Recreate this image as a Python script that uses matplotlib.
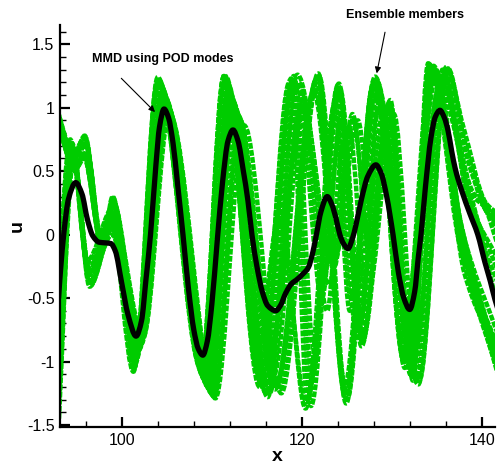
import numpy as np
import matplotlib
matplotlib.use("Agg")
import matplotlib.pyplot as plt
from matplotlib.path import Path
from matplotlib.patches import PathPatch
from matplotlib.ticker import MultipleLocator, FormatStrFormatter

plt.rcParams['font.family'] = ['Liberation Sans', 'DejaVu Sans']
plt.rcParams['axes.unicode_minus'] = False

# ---------------- data (knots) ----------------
# MMD using POD modes (black curve)
mmd_x = [93.0, 93.2, 93.6, 94.1, 94.9, 95.6, 96.2, 96.8, 97.5, 98.2, 98.8, 99.3, 100.0,
         100.7, 101.6, 102.2, 102.7, 103.2, 103.8, 104.2, 104.7, 105.2, 105.7, 106.2,
         106.8, 107.4, 108.0, 108.5, 109.0, 109.5, 110.0, 110.6, 111.2, 111.8, 112.35,
         112.9, 113.5, 114.0, 114.45, 115.0, 115.6, 116.2, 117.1, 117.6, 118.2, 118.8,
         119.5, 120.1, 120.7, 121.2, 121.6, 122.1, 122.8, 123.3, 123.8, 124.2, 124.6,
         125.1, 125.6, 126.0, 126.6, 127.3, 128.2, 128.8, 129.4, 130.1, 130.7, 131.3,
         131.95, 132.5, 132.9, 133.2, 133.7, 134.3, 134.8, 135.3, 135.8, 136.2, 136.6,
         137.0, 137.7, 138.6, 139.5, 140.3, 140.9, 141.4, 141.7]
mmd_y = [-0.50, -0.30, 0.02, 0.28, 0.41, 0.32, 0.12, -0.01, -0.06, -0.065, -0.07, -0.13,
         -0.38, -0.63, -0.80, -0.68, -0.35, 0.00, 0.55, 0.85, 0.99, 0.92, 0.72, 0.40, 0.00,
         -0.42, -0.75, -0.90, -0.95, -0.84, -0.55, -0.05, 0.42, 0.74, 0.825, 0.74, 0.50,
         0.27, 0.00, -0.25, -0.45, -0.56, -0.60, -0.56, -0.46, -0.39, -0.35, -0.31, -0.26,
         -0.14, 0.00, 0.18, 0.30, 0.24, 0.12, 0.00, -0.07, -0.11, -0.03, 0.08, 0.28, 0.46,
         0.55, 0.48, 0.30, 0.00, -0.30, -0.50, -0.59, -0.45, -0.18, 0.00, 0.38, 0.76,
         0.93, 0.98, 0.92, 0.82, 0.66, 0.52, 0.35, 0.17, 0.00, -0.22, -0.37, -0.51, -0.58]

# Ensemble members: (x, u) knots at their peaks / troughs
ens_01 = [(92.6, 1.05), (94.7, 0.62), (95.9, 0.78), (97.8, -0.12), (99.05, 0.29), (101.4, -1.05),
          (104.0, 1.24), (108.8, -1.05), (111.4, 1.26), (115.2, -1.1), (118.8, 1.23), (120.6, -1.3),
          (124.1, 1.19), (126.6, -0.88), (129.8, 1.06), (132.0, -1.1), (134.0, 1.35), (137.5, 0.0),
          (141.8, -1.12)]
ens_02 = [(93.05, -1.45), (94.6, 0.66), (96.45, -0.41), (99.0, 0.05), (101.7, -0.95), (104.4, 1.15),
          (109.3, -1.15), (111.7, 1.2), (116.2, -1.28), (119.5, 1.26), (123.5, -0.24), (125.6, 0.95),
          (127.6, -0.2), (129.5, 0.9), (131.5, -1.0), (134.6, 1.33), (138.0, -0.3), (141.8, -0.95)]
ens_03 = [(92.8, 0.95), (94.8, 0.5), (95.8, 0.62), (97.7, -0.02), (99.0, 0.18), (102.4, -0.8),
          (105.3, 0.95), (110.4, -1.29), (113.6, 0.86), (117.7, -1.25), (121.8, 1.27), (124.9, -1.33),
          (128.1, 1.245), (132.9, -1.18), (136.2, 1.31), (138.0, 0.75), (140.6, 0.17), (142.0, 0.1)]
ens_04 = [(92.95, -1.2), (94.5, 0.72), (96.4, -0.28), (98.9, 0.12), (102.1, -0.85), (104.9, 1.05),
          (110.0, -1.25), (112.3, 1.05), (117.0, -1.22), (121.4, 1.15), (125.0, -1.25), (127.8, 1.15),
          (132.5, -1.05), (135.6, 1.30), (138.3, 0.3), (141.8, -0.4)]
ens_05 = [(92.6, -0.9), (94.3, 0.75), (96.2, -0.2), (99.1, 0.22), (101.5, -1.0), (104.2, 1.2),
          (109.0, -1.1), (111.5, 1.22), (115.0, -0.9), (117.6, 0.2), (120.4, -1.37), (123.6, 1.0),
          (125.3, -0.6), (128.4, 1.1), (131.2, -0.95), (134.3, 1.28), (137.6, 0.1), (141.8, -1.05)]
ens_06 = [(92.7, 1.0), (94.6, 0.58), (96.0, 0.7), (97.9, -0.08), (99.1, 0.25), (102.0, -0.9),
          (104.7, 1.1), (109.6, -1.2), (112.0, 1.1), (116.8, -0.8), (119.8, 0.95), (122.2, -0.5),
          (124.3, 0.9), (126.4, -0.6), (129.0, 0.85), (131.8, -0.8), (135.2, 1.15), (139.0, 0.3),
          (140.2, 0.22), (141.8, -0.1)]
ens_07 = [(93.0, -1.35), (94.7, 0.6), (96.5, -0.35), (98.95, 0.0), (101.8, -0.92), (104.5, 1.12),
          (109.5, -1.18), (112.6, 0.98), (117.4, -1.2), (121.6, 1.22), (124.7, -1.2), (128.0, 1.2),
          (132.7, -1.12), (136.0, 1.32), (137.9, 0.85), (140.4, 0.25), (142.0, 0.15)]
ens_08 = [(92.75, 0.9), (94.9, 0.52), (95.85, 0.6), (97.75, -0.08), (99.0, 0.12), (102.3, -0.82),
          (105.1, 1.0), (110.2, -1.27), (113.2, 0.9), (116.0, -1.15), (119.2, 1.18), (121.0, -1.35),
          (124.2, 1.15), (126.8, -0.8), (129.9, 1.0), (132.3, -1.15), (134.2, 1.33), (137.8, -0.1),
          (141.8, -1.08)]
ens_09 = [(92.9, -1.3), (94.45, 0.7), (96.35, -0.32), (98.85, 0.08), (101.3, -1.08), (104.0, 1.2),
          (108.9, -1.0), (111.3, 1.24), (115.6, -1.2), (119.0, 1.22), (123.6, -0.2), (126.2, 0.9),
          (127.8, 0.1), (129.6, 1.0), (131.6, -0.95), (134.8, 1.3), (138.2, -0.2), (141.8, -0.9)]
ens_10 = [(92.65, 1.02), (94.75, 0.6), (95.95, 0.74), (97.85, -0.1), (99.05, 0.27), (101.9, -0.88),
          (104.6, 1.08), (109.8, -1.22), (112.1, 1.08), (116.4, -1.25), (120.0, 1.1), (122.8, -0.6),
          (124.5, 0.7), (126.5, -0.7), (128.5, 1.0), (131.0, -0.8), (135.0, 1.25), (138.8, 0.3),
          (141.8, -0.6)]
ens_11 = [(92.6, 1.0), (94.65, 0.65), (95.9, 0.76), (97.8, -0.14), (99.0, 0.3), (101.6, -1.0),
          (104.3, 1.18), (109.1, -1.12), (111.6, 1.24), (115.4, -1.15), (119.1, 1.25), (120.8, -1.2),
          (124.0, 1.18), (126.5, -0.8), (129.7, 1.04), (132.1, -1.05), (134.1, 1.34), (137.6, 0.05),
          (141.8, -1.08)]
ens_12 = [(93.0, -1.4), (94.55, 0.68), (96.45, -0.38), (99.0, 0.1), (102.0, -0.88), (104.8, 1.08),
          (109.9, -1.24), (112.4, 1.0), (117.5, -1.22), (121.9, 1.25), (125.0, -1.3), (128.2, 1.22),
          (133.0, -1.15), (136.1, 1.3), (138.1, 0.7), (140.7, 0.2), (142.0, 0.12)]
ens_13 = [(92.9, -1.25), (94.5, 0.7), (96.4, -0.3), (98.95, 0.15), (101.35, -1.06), (104.1, 1.22),
          (108.85, -1.02), (111.4, 1.2), (115.1, -0.95), (117.5, 0.1), (120.5, -1.32), (123.7, 1.05),
          (125.4, -0.5), (128.3, 1.15), (131.3, -1.0), (134.4, 1.3), (137.7, 0.05), (141.8, -1.0)]
ens_14 = [(92.75, 0.92), (94.85, 0.52), (95.8, 0.64), (97.7, -0.04), (99.0, 0.15), (102.35, -0.82),
          (105.2, 0.97), (110.3, -1.28), (113.0, 0.92), (117.1, -1.2), (121.3, 1.12), (124.9, -1.2),
          (127.9, 1.18), (132.4, -1.0), (135.7, 1.28), (138.4, 0.35), (141.8, -0.3)]
ens_15 = [(92.7, -0.8), (94.35, 0.72), (96.25, -0.22), (99.1, 0.2), (101.65, -0.97), (104.4, 1.16),
          (109.4, -1.16), (111.8, 1.16), (116.3, -1.22), (119.6, 1.2), (123.55, -0.26), (125.7, 0.92),
          (127.5, -0.1), (129.4, 0.95), (131.6, -0.9), (134.7, 1.3), (138.1, -0.25), (141.8, -0.9)]
ens_16 = [(92.7, 0.98), (94.7, 0.6), (96.0, 0.72), (97.9, -0.1), (99.1, 0.24), (102.1, -0.86),
          (104.8, 1.06), (109.7, -1.2), (112.2, 1.06), (116.6, -0.9), (119.9, 1.0), (122.3, -0.4),
          (124.4, 0.95), (126.4, -0.7), (128.8, 0.9), (131.9, -0.85), (135.3, 1.2), (139.1, 0.32),
          (140.3, 0.25), (141.8, 0.0)]
ens_17 = [(92.65, 1.03), (94.7, 0.64), (95.95, 0.77), (97.8, -0.1), (99.05, 0.28), (101.45, -1.02),
          (104.05, 1.22), (108.9, -1.08), (111.35, 1.25), (115.3, -1.2), (118.6, 1.2), (121.2, -1.1),
          (124.0, 1.15), (126.7, -0.85), (129.6, 1.02), (132.2, -1.12), (134.3, 1.3), (137.4, -0.05),
          (141.8, -1.1)]
ens_18 = [(92.95, -1.38), (94.6, 0.64), (96.5, -0.4), (99.0, 0.06), (102.2, -0.86), (105.0, 1.02),
          (110.1, -1.26), (112.9, 0.94), (117.2, -1.15), (121.7, 1.24), (124.8, -1.28), (128.0, 1.22),
          (132.8, -1.12), (135.9, 1.28), (138.1, 0.65), (140.8, 0.15), (142.0, 0.08)]
ens_19 = [(92.85, -1.15), (94.5, 0.7), (96.4, -0.26), (98.9, 0.14), (101.6, -0.98), (104.3, 1.17),
          (109.2, -1.14), (111.9, 1.14), (116.0, -1.25), (119.3, 1.18), (121.3, -0.9), (123.9, 1.1),
          (125.9, -0.7), (128.6, 1.05), (131.4, -1.05), (134.5, 1.32), (137.9, 0.0), (141.8, -0.8)]
ens_20 = [(92.7, 0.94), (94.8, 0.54), (95.85, 0.64), (97.75, -0.05), (99.05, 0.2), (101.95, -0.9),
          (104.6, 1.1), (109.6, -1.2), (112.3, 1.02), (116.9, -1.1), (120.2, 1.05), (123.0, -0.4),
          (125.2, 0.85), (127.2, -0.5), (130.2, 0.95), (132.6, -0.9), (135.4, 1.25), (138.6, 0.25),
          (141.8, -0.2)]
members = [ens_01, ens_02, ens_03, ens_04, ens_05, ens_06, ens_07, ens_08, ens_09, ens_10,
           ens_11, ens_12, ens_13, ens_14, ens_15, ens_16, ens_17, ens_18, ens_19, ens_20]

x_ticks = [100, 120, 140]
y_ticks = [-1.5, -1, -0.5, 0, 0.5, 1, 1.5]

# annotation anchors (data coordinates)
mmd_label_xy = (104.6, 1.384)
mmd_arrow_tail = (99.96, 1.232)
mmd_arrow_head = (103.7, 0.966)
ens_label_xy = (131.4, 1.731)
ens_arrow_tail = (129.21, 1.595)
ens_arrow_head = (128.29, 1.271)


# ---------------- helpers ----------------
def smooth_path(xs, ys):
    """Monotone cubic Hermite curve through the knots, as Bezier segments."""
    x = np.asarray(xs, float)
    y = np.asarray(ys, float)
    h = np.diff(x)
    d = np.diff(y) / h
    m = np.zeros_like(y)
    m[0], m[-1] = d[0], d[-1]
    for k in range(1, len(x) - 1):
        if d[k - 1] * d[k] <= 0:
            m[k] = 0.0
        else:
            w1 = 2 * h[k] + h[k - 1]
            w2 = h[k] + 2 * h[k - 1]
            m[k] = (w1 + w2) / (w1 / d[k - 1] + w2 / d[k])
    verts = [(x[0], y[0])]
    codes = [Path.MOVETO]
    for k in range(len(x) - 1):
        verts += [(x[k] + h[k] / 3, y[k] + m[k] * h[k] / 3),
                  (x[k + 1] - h[k] / 3, y[k + 1] - m[k + 1] * h[k] / 3),
                  (x[k + 1], y[k + 1])]
        codes += [Path.CURVE4] * 3
    return Path(verts, codes)


# ---------------- figure ----------------
fig = plt.figure(figsize=(5.03, 4.66), dpi=100)
ax = fig.add_axes([60 / 503, 39 / 466, 435 / 503, 402 / 466])

green = '#00cc00'
for mem in members:
    mx = [p[0] for p in mem]
    my = [p[1] for p in mem]
    ax.add_patch(PathPatch(smooth_path(mx, my), fill=False, edgecolor=green,
                           lw=3.2, linestyle=(0, (1.3, 0.3)), zorder=2))

ax.add_patch(PathPatch(smooth_path(mmd_x, mmd_y), fill=False, edgecolor='black',
                       lw=3.8, zorder=3, capstyle='round', joinstyle='round'))

ax.set_xlim(93.16, 141.41)
ax.set_ylim(-1.516, 1.652)

for s in ['top', 'right']:
    ax.spines[s].set_visible(False)
for s in ['left', 'bottom']:
    ax.spines[s].set_linewidth(1.6)
    ax.spines[s].set_zorder(4)

ax.set_xticks(x_ticks)
ax.set_yticks(y_ticks)
ax.xaxis.set_minor_locator(MultipleLocator(4))
ax.yaxis.set_minor_locator(MultipleLocator(0.1))
ax.yaxis.set_major_formatter(FormatStrFormatter('%g'))
ax.xaxis.set_major_formatter(FormatStrFormatter('%g'))
ax.tick_params(which='major', direction='in', length=7, width=1.6, labelsize=11.5, pad=4)
ax.tick_params(which='minor', direction='in', length=4, width=1.0)

ax.set_xlabel('x', fontsize=14, fontweight='bold', labelpad=0)
ax.set_ylabel('u', fontsize=14, fontweight='bold', labelpad=1)

ax.text(*mmd_label_xy, 'MMD using POD modes', ha='center', va='center',
        fontsize=9, fontweight='bold', zorder=5)
ax.annotate('', xy=mmd_arrow_head, xytext=mmd_arrow_tail,
            arrowprops=dict(arrowstyle='-|>', color='black', lw=0.8,
                            mutation_scale=9, shrinkA=0, shrinkB=0), zorder=5)
ax.text(*ens_label_xy, 'Ensemble members', ha='center', va='center',
        fontsize=9, fontweight='bold', zorder=5, clip_on=False)
ax.annotate('', xy=ens_arrow_head, xytext=ens_arrow_tail, annotation_clip=False,
            arrowprops=dict(arrowstyle='-|>', color='black', lw=0.8,
                            mutation_scale=9, shrinkA=0, shrinkB=0), zorder=5)

fig.savefig('out.png', dpi=100)
